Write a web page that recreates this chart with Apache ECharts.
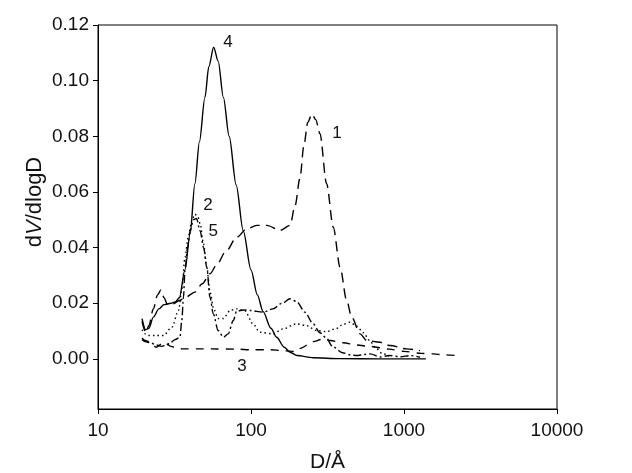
<!DOCTYPE html>
<html>
<head>
<meta charset="utf-8">
<script src="https://cdn.jsdelivr.net/npm/echarts@6/dist/echarts.min.js"></script>
<style>
html,body{margin:0;padding:0;background:#fff;}
#chart{width:632px;height:473px;}
</style>
</head>
<body>
<div id="chart"></div>
<script>
// ---- data (D in Å, dV/dlogD) ----
const curve1 = [[19.4,0.0135],[20.5,0.0095],[21.5,0.012],[23,0.018],[24.5,0.023],[25.8,0.0248],[27,0.022],[28.5,0.0195],[31,0.0198],[34,0.021],[37,0.022],[43,0.024],[48,0.027],[54,0.0306],[60,0.034],[68,0.0384],[81,0.0438],[94,0.0468],[109,0.048],[127,0.048],[155,0.0462],[180,0.048],[194,0.055],[209,0.065],[222,0.077],[235,0.085],[250,0.088],[265,0.086],[282,0.081],[312,0.063],[345,0.0473],[382,0.033],[422,0.021],[455,0.015],[516,0.009],[570,0.0066],[697,0.006],[810,0.0048],[1042,0.0036],[1273,0.003]];
const curve2 = [[19.4,0.0105],[20.3,0.009],[21.3,0.0084],[23.6,0.0084],[26.8,0.0084],[30.4,0.0114],[33.6,0.0174],[35.3,0.0246],[37,0.0365],[38.9,0.0437],[41,0.0497],[43,0.052],[45,0.051],[46.5,0.0486],[48.9,0.0414],[51.4,0.033],[54,0.024],[57,0.018],[61,0.0145],[66,0.0145],[73,0.0174],[80.6,0.018],[91,0.0174],[103,0.0126],[114,0.0096],[139,0.009],[162,0.0108],[198,0.0126],[230,0.012],[268,0.0102],[312,0.0098],[363,0.011],[400,0.0124],[443,0.0132],[491,0.0118],[542,0.0094],[597,0.0066],[650,0.004],[720,0.002],[800,0.001]];
const curve3 = [[19.4,0.0075],[20.3,0.0066],[22,0.006],[24,0.0042],[27,0.006],[30,0.0045],[33,0.0038],[36,0.0036],[45,0.0036],[55,0.0036],[80,0.0035],[100,0.0033],[135,0.0033],[160,0.003],[180,0.0028],[195,0.0026],[210,0.0038],[255,0.0062],[290,0.007],[330,0.0066],[400,0.0058],[490,0.005],[600,0.0045],[800,0.0035],[1000,0.0027],[1300,0.002],[1550,0.0018],[1800,0.0015],[2200,0.0012]];
const curve4 = [[19.4,0.0145],[20.5,0.0105],[21.5,0.011],[23,0.015],[25,0.018],[27,0.0195],[30,0.020],[32,0.0205],[34,0.022],[37,0.032],[40,0.045],[43,0.063],[46,0.078],[50,0.094],[53,0.105],[57,0.112],[61,0.107],[66,0.094],[72,0.080],[80,0.0625],[89,0.046],[100,0.032],[110,0.023],[120,0.017],[135,0.011],[147,0.0078],[165,0.0042],[180,0.0024],[200,0.0012],[255,0.0004],[380,0.0001],[700,0],[1390,0]];
const curve5 = [[19.4,0.007],[20.3,0.0062],[22,0.0058],[24,0.005],[26,0.0045],[28,0.005],[30,0.006],[32,0.007],[34.3,0.0078],[35.3,0.0138],[36.2,0.0222],[37,0.0318],[38.5,0.040],[40,0.046],[42,0.050],[44,0.0505],[46.5,0.046],[49,0.040],[51.4,0.033],[53.9,0.0222],[56.7,0.0162],[61,0.0102],[66,0.0078],[71,0.009],[76.6,0.0138],[80.6,0.0172],[90,0.0176],[98.5,0.0174],[120,0.0168],[139,0.018],[160,0.020],[180,0.0216],[199,0.0206],[225,0.0168],[255,0.0126],[282,0.0094],[312,0.0074],[340,0.0045],[397,0.0022],[450,0.0014],[491,0.0012],[550,0.0016],[600,0.0018],[700,0.0007],[800,0.0012],[950,0.0008],[1100,0.0012],[1273,0.0006]];
const yTicks = [0, 0.02, 0.04, 0.06, 0.08, 0.10, 0.12];
const curveLabels = ['1','2','3','4','5'];

const FONT = 'Liberation Sans, Arial, Helvetica, sans-serif';
const chart = echarts.init(document.getElementById('chart'), null, {renderer:'canvas'});

function line(data, dash, label, coord){
  return {
    type:'line', data:data, showSymbol:false, symbol:'none', smooth:0.3, smoothMonotone:'x',
    lineStyle:{color:'#000', width:1.4, type:dash},
    silent:true, animation:false,
    markPoint:{
      symbol:'circle', symbolSize:0, silent:true, animation:false,
      label:{show:true, position:'inside', formatter:label, color:'#111', fontSize:17, fontFamily:FONT},
      data:[{coord:coord}]
    }
  };
}

chart.setOption({
  animation:false,
  backgroundColor:'#fff',
  grid:{left:98, right:75, top:25, bottom:64, containLabel:false, outerBoundsMode:'none',
        show:true, borderColor:'#000', borderWidth:1, backgroundColor:'transparent'},
  xAxis:{
    type:'log', logBase:10, min:10, max:10000,
    axisLine:{show:true, onZero:false, lineStyle:{color:'#000', width:1}},
    axisTick:{show:true, length:5, lineStyle:{color:'#000'}},
    minorTick:{show:false}, splitLine:{show:false},
    axisLabel:{color:'#111', fontSize:19, fontFamily:FONT, margin:12, formatter:v=>String(Math.round(v))},
    name:'D/Å', nameLocation:'middle', nameGap:43,
    nameTextStyle:{color:'#111', fontSize:21, fontFamily:FONT}
  },
  yAxis:{
    type:'value', min:-0.018, max:0.12,
    axisLine:{show:true, onZero:false, lineStyle:{color:'#000', width:1}},
    axisTick:{show:true, length:5, lineStyle:{color:'#000'}, customValues:yTicks},
    splitLine:{show:false},
    axisLabel:{color:'#111', fontSize:19, fontFamily:FONT, margin:9, customValues:yTicks, formatter:v=>v.toFixed(2)}
  },
  graphic:[{
    type:'text', x:35, y:202, rotation:Math.PI/2,
    style:{
      text:'{a|d}{b|V}{a|/dlogD}', x:0, y:0, align:'center', verticalAlign:'middle',
      rich:{a:{fontSize:22, fontFamily:FONT, fill:'#111'}, b:{fontSize:22, fontFamily:FONT, fontStyle:'italic', fill:'#111'}}
    }
  }],
  series:[
    line(curve1, [10,6], curveLabels[0], [365,0.081]),
    line(curve2, [1.5,3], curveLabels[1], [52.4,0.0551]),
    line(curve3, [8,7], curveLabels[2], [87.3,-0.0028]),
    line(curve4, 'solid', curveLabels[3], [70.8,0.1138]),
    line(curve5, [8,3,2,3], curveLabels[4], [56.7,0.046])
  ]
});
</script>
</body>
</html>
